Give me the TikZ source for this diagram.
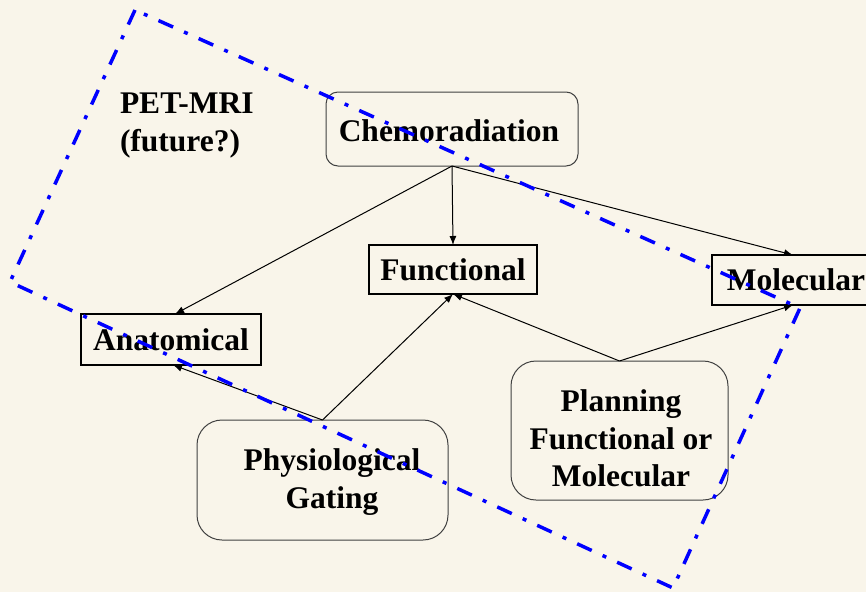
\documentclass[tikz,border=0pt]{standalone}
\usepackage{fontspec}
\setmainfont{Liberation Serif}
\usetikzlibrary{arrows.meta}
\definecolor{bg}{RGB}{249,245,234}
\definecolor{dashblue}{RGB}{0,0,255}
\begin{document}
\begin{tikzpicture}[x=1pt,y=-1pt,
  lbl/.style={font=\fontsize{31.5}{37.5}\selectfont\bfseries, align=center, inner sep=0pt, outer sep=0pt},
  sqbox/.style={lbl, draw=black, line width=1.8pt},
  rbox/.style={lbl, draw=black!75, line width=1pt},
  conn/.style={-{Latex[length=9pt,width=7pt]}, line width=1pt},
  region/.style={draw=dashblue, line width=3.5pt, dash pattern=on 16pt off 12pt on 4pt off 12pt}]
\useasboundingbox[fill=bg] (0,0) rectangle (866,592);

\node[rbox, rounded corners=12pt, minimum width=252pt, minimum height=74pt] (chemo) at (452,129) {};
\node[lbl] (chemotext) at (449,131) {Chemoradiation};
\node[sqbox, minimum width=168pt, minimum height=49pt] (func) at (453,269.5) {Functional};
\node[sqbox, minimum width=168pt, minimum height=50pt] (mol) at (796,280) {Molecular};
\node[sqbox, minimum width=180pt, minimum height=51pt] (anat) at (171,339.5) {Anatomical};
\node[rbox, rounded corners=25pt, minimum width=251pt, minimum height=120pt] (phys) at (322.5,480) {};
\node[lbl] (phystext) at (332,482) {Physiological\\Gating};
\node[rbox, rounded corners=25pt, minimum width=217pt, minimum height=139pt] (plan) at (619.5,430.5) {};
\node[lbl] (plantext) at (621,438.5) {Planning\\Functional or\\Molecular};
\node[lbl, align=left, anchor=north west] (pet) at (120,93) {PET-MRI\\(future?)};

\draw[conn] (chemo.south) -- ([xshift=4pt]anat.north);
\draw[conn] (chemo.south) -- (func.north);
\draw[conn] (chemo.south) -- ([xshift=-3pt]mol.north);
\draw[conn] (phys.north) -- (func.south);
\draw[conn] (phys.north) -- ([xshift=2pt]anat.south);
\draw[conn] (plan.north) -- (func.south);
\draw[conn] (plan.north) -- ([xshift=-3pt]mol.south);

\coordinate (r1) at (135,10);
\coordinate (r2) at (10,282);
\coordinate (r3) at (673,588);
\coordinate (r4) at (800,308);
\draw[region] (r1) -- (r2) -- (r3) -- (r4) -- cycle;
\end{tikzpicture}
\end{document}
